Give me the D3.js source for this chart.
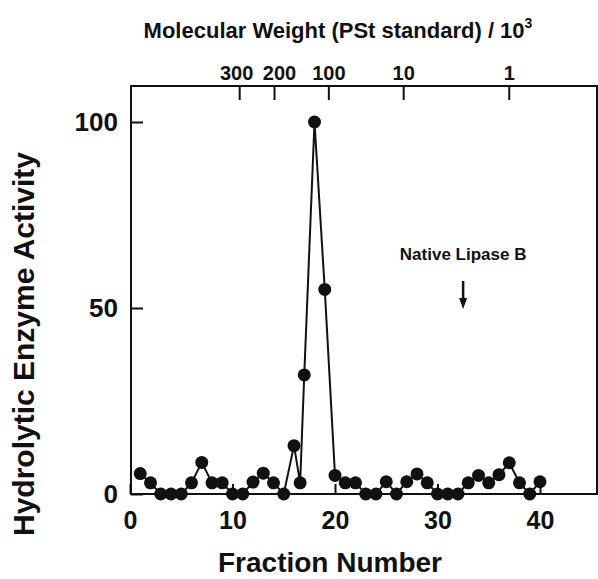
<!DOCTYPE html>
<html>
<head>
<meta charset="utf-8">
<script src="https://cdn.jsdelivr.net/npm/d3@7"></script>
<style>
  html, body { margin: 0; padding: 0; background: #fff; }
  svg { display: block; }
  text { font-family: "Liberation Sans", Arial, Helvetica, sans-serif; font-weight: bold; fill: #111; }
</style>
</head>
<body>
<script>
// ---- Data ----
const fractions = [1,2,3,4,5,6,7,8,9,10,11,12,13,14,15,16,16.6,17,18,19,20,21,22,23,24,25,26,27,28,29,30,31,32,33,34,35,36,37,38,39,40];
const activity  = [5.5,3,0,0,0,3,8.5,3,3,0,0,3.2,5.6,3,0,13,3,32,100,55,5,3,3,0,0,3.3,0,3.3,5.4,3,0,0,0,3,5,3,5.2,8.4,3,0,3.3];
const xTicks = [0,10,20,30,40];
const yTicks = [0,50,100];
const mwTickLabels = ["300","200","100","10","1"];
const mwTickFractions = [10.7,14.1,19.4,26.7,37.0];
const nativeLipaseFraction = 32.5;

(function () {
const W = 598, H = 579;
const svg = d3.select("body").append("svg").attr("width", W).attr("height", H);

const pL = 131, pR = 597, pT = 86, pB = 494;
const x = d3.scaleLinear().domain([0, 45.5]).range([130, 130 + 45.5 * 10.25]);
const y = d3.scaleLinear().domain([0, 100]).range([494, 122]);

const ink = "#111";

// frame
svg.append("rect").attr("x", pL).attr("y", pT).attr("width", pR - pL).attr("height", pB - pT)
  .attr("fill", "none").attr("stroke", ink).attr("stroke-width", 2);

// bottom axis ticks (inward) + labels
const gx = svg.append("g").attr("transform", `translate(0,${pB})`)
  .call(d3.axisBottom(x).tickValues(xTicks).tickSize(-10).tickPadding(17).tickFormat(d3.format("d")));
gx.select(".domain").remove();
gx.selectAll(".tick line").attr("stroke", ink).attr("stroke-width", 2);
gx.selectAll(".tick text").style("font-size", "25px").attr("fill", ink);

// left axis ticks (inward) + labels
const gy = svg.append("g").attr("transform", `translate(${pL},0)`)
  .call(d3.axisLeft(y).tickValues(yTicks).tickSize(-12).tickPadding(13).tickFormat(d3.format("d")));
gy.select(".domain").remove();
gy.selectAll(".tick line").attr("stroke", ink).attr("stroke-width", 2);
gy.selectAll(".tick text").style("font-size", "26px").attr("fill", ink);

// top MW axis
const gt = svg.append("g").attr("transform", `translate(0,${pT})`);
gt.selectAll("line").data(mwTickFractions).join("line")
  .attr("x1", d => x(d)).attr("x2", d => x(d)).attr("y1", 0).attr("y2", 14)
  .attr("stroke", ink).attr("stroke-width", 2);
const labelNudge = [-3, 5, 0, 0, 0];
gt.selectAll("text").data(mwTickLabels).join("text")
  .attr("x", (d, i) => x(mwTickFractions[i]) + labelNudge[i]).attr("y", -6)
  .attr("text-anchor", "middle").style("font-size", "20px").text(d => d);

// top title
const tt = svg.append("text").attr("x", 338).attr("y", 38).attr("text-anchor", "middle").style("font-size", "22px");
tt.append("tspan").text("Molecular Weight (PSt standard) / 10");
tt.append("tspan").attr("dy", -10).style("font-size", "14px").text("3");

// axis titles
svg.append("text").attr("x", 330).attr("y", 572).attr("text-anchor", "middle").style("font-size", "28px").text("Fraction Number");
svg.append("text").attr("transform", "translate(34,344) rotate(-90)").attr("text-anchor", "middle")
  .style("font-size", "30px").text("Hydrolytic Enzyme Activity");

// line + points
const pts = fractions.map((f, i) => [f, activity[i]]);
svg.append("path").datum(pts)
  .attr("d", d3.line().x(d => x(d[0])).y(d => y(d[1])))
  .attr("fill", "none").attr("stroke", ink).attr("stroke-width", 2);
svg.selectAll("circle.pt").data(pts).join("circle").attr("class", "pt")
  .attr("cx", d => x(d[0])).attr("cy", d => y(d[1])).attr("r", 6.5).attr("fill", ink);

// Native Lipase B annotation
const ax = x(nativeLipaseFraction);
svg.append("text").attr("x", ax).attr("y", 260).attr("text-anchor", "middle").style("font-size", "17px").text("Native Lipase B");
svg.append("line").attr("x1", ax).attr("x2", ax).attr("y1", 281).attr("y2", 300).attr("stroke", ink).attr("stroke-width", 2.5);
svg.append("path").attr("d", `M${ax-4},${298} L${ax+4},${298} L${ax},${309} Z`).attr("fill", ink);
})();
</script>
</body>
</html>
